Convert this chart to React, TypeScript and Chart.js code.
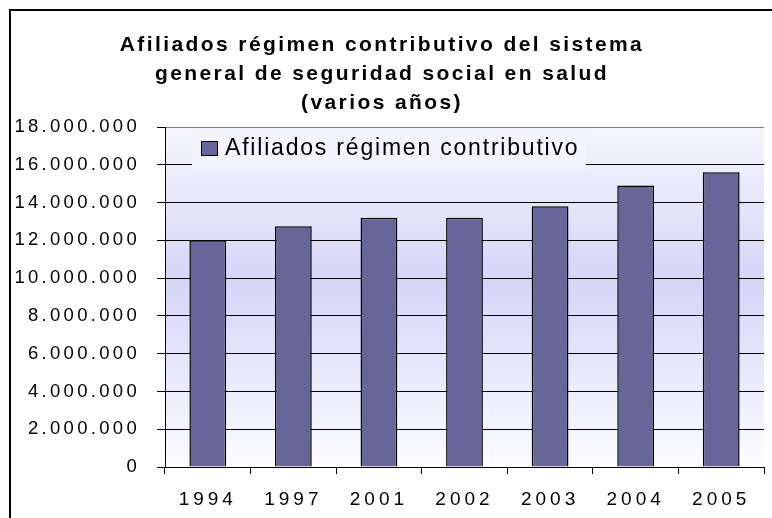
import React, { useEffect, useRef } from 'react';
import { Chart, registerables } from 'chart.js';

Chart.register(...registerables);

const categories = ['1994', '1997', '2001', '2002', '2003', '2004', '2005'];
const afiliados = [12000000, 12750000, 13200000, 13200000, 13800000, 14900000, 15600000];
const seriesLabel = 'Afiliados régimen contributivo';
const titleLines = [
  'Afiliados régimen contributivo del sistema',
  'general de seguridad social en salud',
  '(varios años)',
];
const yMin = 0;
const yMax = 18000000;
const yStep = 2000000;

const FONT = '"Liberation Sans", Arial, Helvetica, sans-serif';

function fmt(v: number): string {
  return String(Math.round(v)).replace(/\B(?=(\d{3})+(?!\d))/g, '.');
}

const plotBgPlugin = {
  id: 'plotBg',
  beforeDraw(chart: any) {
    const { ctx, chartArea: a } = chart;
    const g = ctx.createLinearGradient(0, a.top, 0, a.bottom);
    g.addColorStop(0, '#f6f6fd');
    g.addColorStop(0.45, '#d5d5f7');
    g.addColorStop(1, '#fcfcff');
    ctx.save();
    ctx.fillStyle = g;
    ctx.fillRect(a.left, a.top, a.right - a.left, a.bottom - a.top);
    ctx.restore();
  },
};

const spacingPlugin = {
  id: 'spacing',
  afterLayout(chart: any) {
    const wrap = (obj: any, key: string, sp: string) => {
      if (!obj || obj['__w_' + key]) return;
      const orig = obj[key].bind(obj);
      obj[key] = (...args: any[]) => {
        const ctx = chart.ctx;
        const prev = ctx.letterSpacing;
        ctx.letterSpacing = sp;
        try {
          orig(...args);
        } finally {
          ctx.letterSpacing = prev || '0px';
        }
      };
      obj['__w_' + key] = true;
    };
    wrap(chart.titleBlock, 'draw', '2.4px');
    wrap(chart.scales.y, 'drawLabels', '3.3px');
    wrap(chart.scales.x, 'drawLabels', '4px');
  },
};

const legendPlugin = {
  id: 'customLegend',
  beforeDatasetsDraw(chart: any) {
    const { ctx, chartArea: a } = chart;
    const ds = chart.data.datasets[0];
    const x0 = a.left + 27;
    const y0 = a.top + 1;
    ctx.save();
    ctx.fillStyle = '#f4f4fc';
    ctx.fillRect(x0, y0, 394, 42);
    ctx.fillStyle = ds.backgroundColor;
    ctx.fillRect(x0 + 9.5, y0 + 13.5, 16, 14);
    ctx.strokeStyle = '#000';
    ctx.lineWidth = 1;
    ctx.strokeRect(x0 + 9.5, y0 + 13.5, 16, 14);
    ctx.letterSpacing = '1.8px';
    ctx.font = '23px ' + FONT;
    ctx.fillStyle = '#000';
    ctx.textBaseline = 'alphabetic';
    ctx.textAlign = 'left';
    ctx.fillText(ds.label, x0 + 33, y0 + 27);
    ctx.restore();
  },
};

export default function App() {
  const ref = useRef<HTMLCanvasElement | null>(null);

  useEffect(() => {
    if (!ref.current) return;
    const chart = new Chart(ref.current, {
      type: 'bar',
      data: {
        labels: categories,
        datasets: [
          {
            label: seriesLabel,
            data: afiliados,
            backgroundColor: '#666699',
            borderColor: '#000000',
            borderWidth: 1.5,
            categoryPercentage: 1,
            barPercentage: 0.43,
          },
        ],
      },
      options: {
        responsive: false,
        animation: false,
        layout: { padding: { left: 0, right: 8, top: 0, bottom: 0 } },
        plugins: {
          legend: { display: false },
          tooltip: { enabled: false },
          title: {
            display: true,
            text: titleLines,
            color: '#000',
            font: { family: FONT, size: 21, weight: 'bold', lineHeight: '29px' },
            padding: { top: 31, bottom: 9 },
          },
        },
        scales: {
          x: {
            offset: true,
            grid: {
              display: true,
              drawOnChartArea: false,
              drawTicks: true,
              tickLength: 7,
              color: '#000',
              offset: true,
            },
            border: { display: true, color: '#000', width: 1 },
            ticks: {
              color: '#000',
              font: { family: FONT, size: 19 },
              padding: 14,
              maxRotation: 0,
              autoSkip: false,
            },
            afterFit: (s: any) => {
              s.height = 51;
              s.paddingLeft = 0;
              s.paddingRight = 0;
            },
          },
          y: {
            min: yMin,
            max: yMax,
            grid: {
              color: (c: any) => (c.tick && c.tick.value === yMax ? '#808080' : '#000'),
              tickColor: '#000',
              tickLength: 8,
              drawTicks: true,
              lineWidth: 1,
            },
            border: { display: true, color: '#000', width: 1 },
            ticks: {
              stepSize: yStep,
              color: '#000',
              font: { family: FONT, size: 18.5 },
              padding: 17,
              callback: (v: any) => fmt(Number(v)),
            },
            afterFit: (s: any) => {
              s.width = 165;
              s.paddingTop = 0;
              s.paddingBottom = 0;
            },
          },
        },
      },
      plugins: [plotBgPlugin, spacingPlugin, legendPlugin],
    } as any);
    return () => chart.destroy();
  }, []);

  return (
    <div
      style={{
        position: 'fixed',
        left: 0,
        top: 0,
        width: 772,
        height: 518,
        overflow: 'hidden',
        background: '#fff',
      }}
    >
      <div
        style={{
          position: 'absolute',
          left: 9,
          top: 9,
          width: 900,
          height: 700,
          border: '2px solid #000',
        }}
      />
      <canvas
        ref={ref}
        width={772}
        height={518}
        style={{ position: 'absolute', left: 0, top: 0, width: 772, height: 518 }}
      />
    </div>
  );
}
